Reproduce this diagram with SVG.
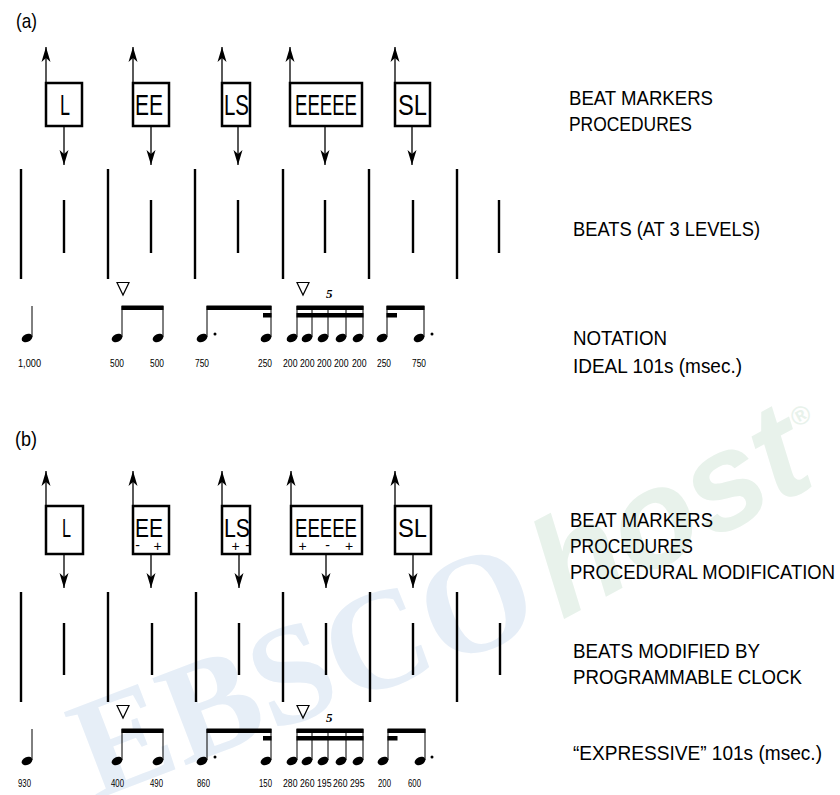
<svg xmlns="http://www.w3.org/2000/svg" xmlns:xlink="http://www.w3.org/1999/xlink" width="840" height="795" viewBox="0 0 840 795">
<defs>
<style>
.box{fill:none;stroke:#000;stroke-width:2.5}
.beat{stroke:#000;stroke-width:2.4}
.arr{stroke:#000;stroke-width:1.3;fill:none;marker-end:url(#ah)}
.stem{stroke:#000;stroke-width:1}
.beam{fill:#000}
.tri{fill:none;stroke:#000;stroke-width:1.2}
.t{font-family:"Liberation Sans",Arial,sans-serif;fill:#000}
.lbl{font-size:21px}
.num{font-size:10.5px}
.bl{font-size:30px}
.bl2{font-size:26px}
.sg{font-size:14px;text-anchor:middle}
.five{font-family:"Liberation Serif","Times New Roman",serif;font-style:italic;font-weight:bold;font-size:13px}
.wm{font-family:"Liberation Serif","Times New Roman",serif;font-weight:bold}
.wm2{font-family:"Liberation Sans",Arial,sans-serif;font-weight:bold;font-style:italic}
</style>
<marker id="ah" markerUnits="userSpaceOnUse" markerWidth="16" markerHeight="10" refX="15" refY="5" orient="auto">
<path d="M0,0.5 L15,5 L0,9.5 L4,5 Z" fill="#000"/>
</marker>
<ellipse id="nh" cx="0" cy="0" rx="5.6" ry="3.9" transform="rotate(-25)" fill="#000"/>
</defs>
<rect width="840" height="795" fill="#fff"/>

<g id="watermark">
<text class="wm" transform="translate(95,800) rotate(-21)" font-size="142" fill="#e6eef7">EBSCO</text>
<text class="wm2" transform="translate(562,620) rotate(-28)" font-size="138" fill="#e8f2eb">host</text>
<text class="wm2" transform="translate(796,428) rotate(-28)" font-size="26" font-style="normal" font-weight="normal" fill="#e8f2eb">®</text>
</g>

<!-- Panel (a) -->
<text class="t" x="16" y="28" font-size="21" textLength="21" lengthAdjust="spacingAndGlyphs">(a)</text>

<g id="a-L"><rect class="box" x="46" y="83" width="36" height="43"/><text class="t bl" x="60" y="115" textLength="10" lengthAdjust="spacingAndGlyphs">L</text></g>
<g id="a-EE"><rect class="box" x="133" y="83" width="36" height="43"/><text class="t bl" x="135" y="115" textLength="28" lengthAdjust="spacingAndGlyphs">EE</text></g>
<g id="a-LS"><rect class="box" x="222" y="83" width="28" height="43"/><text class="t bl" x="224" y="115" textLength="25" lengthAdjust="spacingAndGlyphs">LS</text></g>
<g id="a-EEEEE"><rect class="box" x="290" y="83" width="72" height="43"/><text class="t bl" x="295" y="115" textLength="62" lengthAdjust="spacingAndGlyphs">EEEEE</text></g>
<g id="a-SL"><rect class="box" x="395" y="83" width="35" height="43"/><text class="t bl" x="398" y="115" textLength="29" lengthAdjust="spacingAndGlyphs">SL</text></g>

<g id="a-connectors">
<line class="arr" x1="46" y1="83" x2="46" y2="47"/>
<line class="arr" x1="133" y1="83" x2="133" y2="47"/>
<line class="arr" x1="222" y1="83" x2="222" y2="47"/>
<line class="arr" x1="290" y1="83" x2="290" y2="47"/>
<line class="arr" x1="395" y1="83" x2="395" y2="47"/>
<line class="arr" x1="64" y1="126" x2="64" y2="165"/>
<line class="arr" x1="151" y1="126" x2="151" y2="165"/>
<line class="arr" x1="238" y1="126" x2="238" y2="165"/>
<line class="arr" x1="325" y1="126" x2="325" y2="165"/>
<line class="arr" x1="412" y1="126" x2="412" y2="165"/>
</g>

<g id="a-beats">
<line class="beat" x1="21" y1="169" x2="21" y2="279"/>
<line class="beat" x1="108" y1="169" x2="108" y2="279"/>
<line class="beat" x1="195" y1="169" x2="195" y2="279"/>
<line class="beat" x1="283" y1="169" x2="283" y2="279"/>
<line class="beat" x1="369" y1="169" x2="369" y2="279"/>
<line class="beat" x1="457" y1="169" x2="457" y2="279"/>
<line class="beat" x1="64" y1="200" x2="64" y2="253"/>
<line class="beat" x1="151" y1="200" x2="151" y2="253"/>
<line class="beat" x1="238" y1="200" x2="238" y2="253"/>
<line class="beat" x1="325" y1="200" x2="325" y2="253"/>
<line class="beat" x1="413" y1="200" x2="413" y2="253"/>
<line class="beat" x1="499" y1="200" x2="499" y2="253"/>
</g>

<g id="a-notation">
<polygon class="tri" points="117,282.5 129,282.5 123,295"/>
<polygon class="tri" points="297,282.5 309,282.5 303,295"/>
<text class="five" x="326" y="298">5</text>
<use xlink:href="#nh" x="27" y="338"/><line class="stem" x1="32" y1="306" x2="32" y2="337"/>
<use xlink:href="#nh" x="117" y="338"/><line class="stem" x1="122" y1="306" x2="122" y2="337"/>
<use xlink:href="#nh" x="158" y="338"/><line class="stem" x1="163" y1="306" x2="163" y2="337"/>
<rect class="beam" x="121.5" y="305.5" width="42" height="4.5"/>
<use xlink:href="#nh" x="202" y="338"/><line class="stem" x1="207" y1="306" x2="207" y2="337"/>
<circle cx="215" cy="334" r="1.5"/>
<use xlink:href="#nh" x="266" y="338"/><line class="stem" x1="271" y1="306" x2="271" y2="337"/>
<rect class="beam" x="206.5" y="305.5" width="65" height="4.5"/>
<rect class="beam" x="263" y="313" width="8.5" height="4.5"/>
<use xlink:href="#nh" x="292" y="338"/><line class="stem" x1="297" y1="306" x2="297" y2="337"/>
<use xlink:href="#nh" x="307" y="338"/><line class="stem" x1="312" y1="306" x2="312" y2="337"/>
<use xlink:href="#nh" x="323" y="338"/><line class="stem" x1="328" y1="306" x2="328" y2="337"/>
<use xlink:href="#nh" x="341" y="338"/><line class="stem" x1="346" y1="306" x2="346" y2="337"/>
<use xlink:href="#nh" x="358" y="338"/><line class="stem" x1="363" y1="306" x2="363" y2="337"/>
<rect class="beam" x="296.5" y="305.5" width="67" height="4.5"/>
<rect class="beam" x="296.5" y="313" width="67" height="4.5"/>
<use xlink:href="#nh" x="382" y="338"/><line class="stem" x1="387" y1="306" x2="387" y2="337"/>
<use xlink:href="#nh" x="419" y="338"/><line class="stem" x1="424" y1="306" x2="424" y2="337"/>
<circle cx="432" cy="334" r="1.5"/>
<rect class="beam" x="386.5" y="305.5" width="38" height="4.5"/>
<rect class="beam" x="386.5" y="313" width="10.5" height="4.5"/>
</g>

<g id="a-values">
<text class="t num" x="18" y="367" textLength="23" lengthAdjust="spacingAndGlyphs">1,000</text>
<text class="t num" x="110" y="367" textLength="14" lengthAdjust="spacingAndGlyphs">500</text>
<text class="t num" x="150" y="367" textLength="14" lengthAdjust="spacingAndGlyphs">500</text>
<text class="t num" x="195" y="367" textLength="14" lengthAdjust="spacingAndGlyphs">750</text>
<text class="t num" x="258" y="367" textLength="14" lengthAdjust="spacingAndGlyphs">250</text>
<text class="t num" x="283" y="367" textLength="14.5" lengthAdjust="spacingAndGlyphs">200</text>
<text class="t num" x="300" y="367" textLength="14.5" lengthAdjust="spacingAndGlyphs">200</text>
<text class="t num" x="317" y="367" textLength="14.5" lengthAdjust="spacingAndGlyphs">200</text>
<text class="t num" x="334" y="367" textLength="14.5" lengthAdjust="spacingAndGlyphs">200</text>
<text class="t num" x="352" y="367" textLength="14.5" lengthAdjust="spacingAndGlyphs">200</text>
<text class="t num" x="377" y="367" textLength="14" lengthAdjust="spacingAndGlyphs">250</text>
<text class="t num" x="412" y="367" textLength="14" lengthAdjust="spacingAndGlyphs">750</text>
</g>

<g id="a-legend">
<text class="t lbl" x="569" y="105" textLength="144" lengthAdjust="spacingAndGlyphs">BEAT MARKERS</text>
<text class="t lbl" x="569" y="131" textLength="123" lengthAdjust="spacingAndGlyphs">PROCEDURES</text>
<text class="t lbl" x="573" y="236" textLength="187" lengthAdjust="spacingAndGlyphs">BEATS (AT 3 LEVELS)</text>
<text class="t lbl" x="573" y="345" textLength="94" lengthAdjust="spacingAndGlyphs">NOTATION</text>
<text class="t lbl" x="573" y="373" textLength="169" lengthAdjust="spacingAndGlyphs">IDEAL 101s (msec.)</text>
</g>

<!-- Panel (b) -->
<text class="t" x="15" y="446" font-size="21" textLength="22" lengthAdjust="spacingAndGlyphs">(b)</text>

<g id="b-L"><rect class="box" x="46" y="506" width="37" height="48"/><text class="t bl2" x="62" y="537" textLength="9" lengthAdjust="spacingAndGlyphs">L</text></g>
<g id="b-EE"><rect class="box" x="133" y="506" width="36" height="48"/><text class="t bl2" x="135" y="537" textLength="28" lengthAdjust="spacingAndGlyphs">EE</text>
<text class="t sg" x="137.5" y="550">-</text><text class="t sg" x="157.5" y="551">+</text></g>
<g id="b-LS"><rect class="box" x="222" y="506" width="28" height="48"/><text class="t bl2" x="224" y="537" textLength="26" lengthAdjust="spacingAndGlyphs">LS</text>
<text class="t sg" x="235.5" y="551">+</text><text class="t sg" x="247.5" y="550">-</text></g>
<g id="b-EEEEE"><rect class="box" x="291" y="506" width="71" height="48"/><text class="t bl2" x="295" y="537" textLength="62" lengthAdjust="spacingAndGlyphs">EEEEE</text>
<text class="t sg" x="302.5" y="551">+</text><text class="t sg" x="327.5" y="550">-</text><text class="t sg" x="349" y="551">+</text></g>
<g id="b-SL"><rect class="box" x="395" y="506" width="36" height="48"/><text class="t bl2" x="398" y="537" textLength="29" lengthAdjust="spacingAndGlyphs">SL</text></g>

<g id="b-connectors">
<line class="arr" x1="46" y1="506" x2="46" y2="471"/>
<line class="arr" x1="133" y1="506" x2="133" y2="471"/>
<line class="arr" x1="222" y1="506" x2="222" y2="471"/>
<line class="arr" x1="291" y1="506" x2="291" y2="471"/>
<line class="arr" x1="395" y1="506" x2="395" y2="471"/>
<line class="arr" x1="64" y1="554" x2="64" y2="588"/>
<line class="arr" x1="151" y1="554" x2="151" y2="588"/>
<line class="arr" x1="239" y1="554" x2="239" y2="588"/>
<line class="arr" x1="326" y1="554" x2="326" y2="588"/>
<line class="arr" x1="413" y1="554" x2="413" y2="588"/>
</g>

<g id="b-beats">
<line class="beat" x1="21" y1="592" x2="21" y2="702"/>
<line class="beat" x1="108" y1="592" x2="108" y2="702"/>
<line class="beat" x1="196" y1="592" x2="196" y2="702"/>
<line class="beat" x1="283" y1="592" x2="283" y2="702"/>
<line class="beat" x1="370" y1="592" x2="370" y2="702"/>
<line class="beat" x1="457" y1="592" x2="457" y2="702"/>
<line class="beat" x1="64" y1="623" x2="64" y2="675"/>
<line class="beat" x1="152" y1="623" x2="152" y2="675"/>
<line class="beat" x1="239" y1="623" x2="239" y2="675"/>
<line class="beat" x1="326" y1="623" x2="326" y2="675"/>
<line class="beat" x1="413" y1="623" x2="413" y2="675"/>
<line class="beat" x1="500" y1="623" x2="500" y2="675"/>
</g>

<g id="b-notation" transform="translate(0,423)">
<polygon class="tri" points="117,282.5 129,282.5 123,295"/>
<polygon class="tri" points="297,282.5 309,282.5 303,295"/>
<text class="five" x="326" y="299">5</text>
<use xlink:href="#nh" x="27" y="338"/><line class="stem" x1="32" y1="306" x2="32" y2="337"/>
<use xlink:href="#nh" x="117" y="338"/><line class="stem" x1="122" y1="306" x2="122" y2="337"/>
<use xlink:href="#nh" x="158" y="338"/><line class="stem" x1="163" y1="306" x2="163" y2="337"/>
<rect class="beam" x="121.5" y="305.5" width="42" height="4.5"/>
<use xlink:href="#nh" x="202" y="338"/><line class="stem" x1="207" y1="306" x2="207" y2="337"/>
<circle cx="215" cy="334" r="1.5"/>
<use xlink:href="#nh" x="266" y="338"/><line class="stem" x1="271" y1="306" x2="271" y2="337"/>
<rect class="beam" x="206.5" y="305.5" width="65" height="4.5"/>
<rect class="beam" x="263" y="313" width="8.5" height="4.5"/>
<use xlink:href="#nh" x="292" y="338"/><line class="stem" x1="297" y1="306" x2="297" y2="337"/>
<use xlink:href="#nh" x="307" y="338"/><line class="stem" x1="312" y1="306" x2="312" y2="337"/>
<use xlink:href="#nh" x="323" y="338"/><line class="stem" x1="328" y1="306" x2="328" y2="337"/>
<use xlink:href="#nh" x="341" y="338"/><line class="stem" x1="346" y1="306" x2="346" y2="337"/>
<use xlink:href="#nh" x="358" y="338"/><line class="stem" x1="363" y1="306" x2="363" y2="337"/>
<rect class="beam" x="296.5" y="305.5" width="67" height="4.5"/>
<rect class="beam" x="296.5" y="313" width="67" height="4.5"/>
<use xlink:href="#nh" x="383" y="338"/><line class="stem" x1="388" y1="306" x2="388" y2="337"/>
<use xlink:href="#nh" x="420" y="338"/><line class="stem" x1="425" y1="306" x2="425" y2="337"/>
<circle cx="432" cy="334" r="1.5"/>
<rect class="beam" x="387.5" y="305.5" width="38" height="4.5"/>
<rect class="beam" x="387.5" y="313" width="10" height="4.5"/>
</g>

<g id="b-values">
<text class="t num" x="18" y="787" textLength="13" lengthAdjust="spacingAndGlyphs">930</text>
<text class="t num" x="111" y="787" textLength="13" lengthAdjust="spacingAndGlyphs">400</text>
<text class="t num" x="150" y="787" textLength="13" lengthAdjust="spacingAndGlyphs">490</text>
<text class="t num" x="197" y="787" textLength="13" lengthAdjust="spacingAndGlyphs">860</text>
<text class="t num" x="259" y="787" textLength="13" lengthAdjust="spacingAndGlyphs">150</text>
<text class="t num" x="283" y="787" textLength="14.5" lengthAdjust="spacingAndGlyphs">280</text>
<text class="t num" x="300" y="787" textLength="14.5" lengthAdjust="spacingAndGlyphs">260</text>
<text class="t num" x="317" y="787" textLength="14.5" lengthAdjust="spacingAndGlyphs">195</text>
<text class="t num" x="333" y="787" textLength="14.5" lengthAdjust="spacingAndGlyphs">260</text>
<text class="t num" x="350" y="787" textLength="14.5" lengthAdjust="spacingAndGlyphs">295</text>
<text class="t num" x="378" y="787" textLength="13" lengthAdjust="spacingAndGlyphs">200</text>
<text class="t num" x="408" y="787" textLength="13" lengthAdjust="spacingAndGlyphs">600</text>
</g>

<g id="b-legend">
<text class="t lbl" x="570" y="527" textLength="143" lengthAdjust="spacingAndGlyphs">BEAT MARKERS</text>
<text class="t lbl" x="570" y="553" textLength="123" lengthAdjust="spacingAndGlyphs">PROCEDURES</text>
<text class="t lbl" x="570" y="579" textLength="265" lengthAdjust="spacingAndGlyphs">PROCEDURAL MODIFICATION</text>
<text class="t lbl" x="573" y="658" textLength="187" lengthAdjust="spacingAndGlyphs">BEATS MODIFIED BY</text>
<text class="t lbl" x="573" y="684" textLength="229" lengthAdjust="spacingAndGlyphs">PROGRAMMABLE CLOCK</text>
<text class="t lbl" x="573" y="760" textLength="249" lengthAdjust="spacingAndGlyphs">“EXPRESSIVE” 101s (msec.)</text>
</g>
</svg>
